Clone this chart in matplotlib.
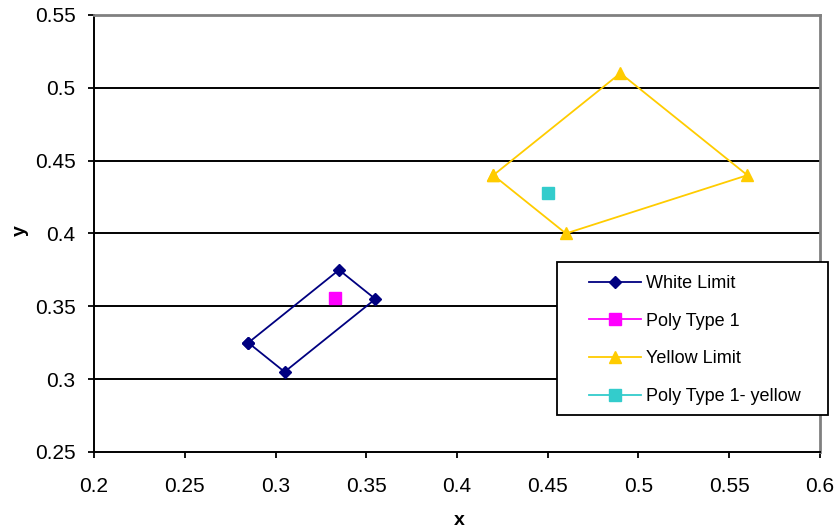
import matplotlib.pyplot as plt
from matplotlib.lines import Line2D
from matplotlib.patches import Rectangle

plt.rcParams['font.family'] = ['Liberation Sans', 'DejaVu Sans']

# data
white_x = [0.285, 0.335, 0.355, 0.305, 0.285]
white_y = [0.325, 0.375, 0.355, 0.305, 0.325]
poly1_x = [0.333]
poly1_y = [0.356]
yellow_x = [0.42, 0.49, 0.56, 0.46, 0.42]
yellow_y = [0.44, 0.51, 0.44, 0.40, 0.44]
poly1y_x = [0.45]
poly1y_y = [0.428]

xticks = [0.2, 0.25, 0.3, 0.35, 0.4, 0.45, 0.5, 0.55, 0.6]
yticks = [0.25, 0.3, 0.35, 0.4, 0.45, 0.5, 0.55]
labels = ['White Limit', 'Poly Type 1', 'Yellow Limit', 'Poly Type 1- yellow']

fig = plt.figure(figsize=(8.35, 5.31), dpi=100)
ax = fig.add_axes([0.1126, 0.1488, 0.8694, 0.823])

ax.plot(white_x, white_y, color='#000080', lw=1.3, marker='D', ms=6.5)
ax.plot(poly1_x, poly1_y, color='#FF00FF', marker='s', ms=8.5, linestyle='none')
ax.plot(yellow_x, yellow_y, color='#FFCC00', lw=1.3, marker='^', ms=9)
ax.plot(poly1y_x, poly1y_y, color='#33CCCC', marker='s', ms=8.5, linestyle='none')

ax.set_xlim(0.2, 0.6)
ax.set_ylim(0.25, 0.55)
ax.set_xticks(xticks)
ax.set_xticklabels([f'{v:g}' for v in xticks])
ax.set_yticks(yticks)
ax.set_yticklabels([f'{v:g}' for v in yticks])
ax.tick_params(direction='out', length=4.3, width=1.3, labelsize=15, color='black')
ax.tick_params(axis='x', pad=14)
ax.tick_params(axis='y', pad=9)

for v in yticks[1:-1]:
    ax.axhline(v, color='black', lw=1.4, zorder=0)

for side in ['left', 'bottom']:
    ax.spines[side].set_color('black')
    ax.spines[side].set_linewidth(1.4)
for side in ['top', 'right']:
    ax.spines[side].set_color('#808080')
    ax.spines[side].set_linewidth(2)

# axis titles placed in figure coords
fig.text(0.5497, 0.0207, 'x', fontsize=14, fontweight='bold', ha='center', va='center')
fig.text(0.024, 0.565, 'y', fontsize=14, fontweight='bold', rotation=90, ha='center', va='center')

# legend frame sticks out past the plot area, so draw it by hand
frame = Rectangle((0.6671, 0.2185), 0.3246, 0.2881, transform=fig.transFigure,
                  facecolor='white', edgecolor='black', lw=1.3, zorder=5)
fig.add_artist(frame)

handles = [
    Line2D([], [], color='#000080', lw=1.3, marker='D', ms=6.5),
    Line2D([], [], color='#FF00FF', lw=1.3, marker='s', ms=8.5),
    Line2D([], [], color='#FFCC00', lw=1.3, marker='^', ms=9),
    Line2D([], [], color='#33CCCC', lw=1.3, marker='s', ms=8.5),
]
leg = fig.legend(handles, labels, loc='center left', bbox_to_anchor=(0.7054, 0.3597),
                 frameon=False, fontsize=13, borderpad=0, borderaxespad=0,
                 labelspacing=1.15, handlelength=2.9, handletextpad=0.28)
leg.set_zorder(6)

fig.savefig('out.png', dpi=100)
